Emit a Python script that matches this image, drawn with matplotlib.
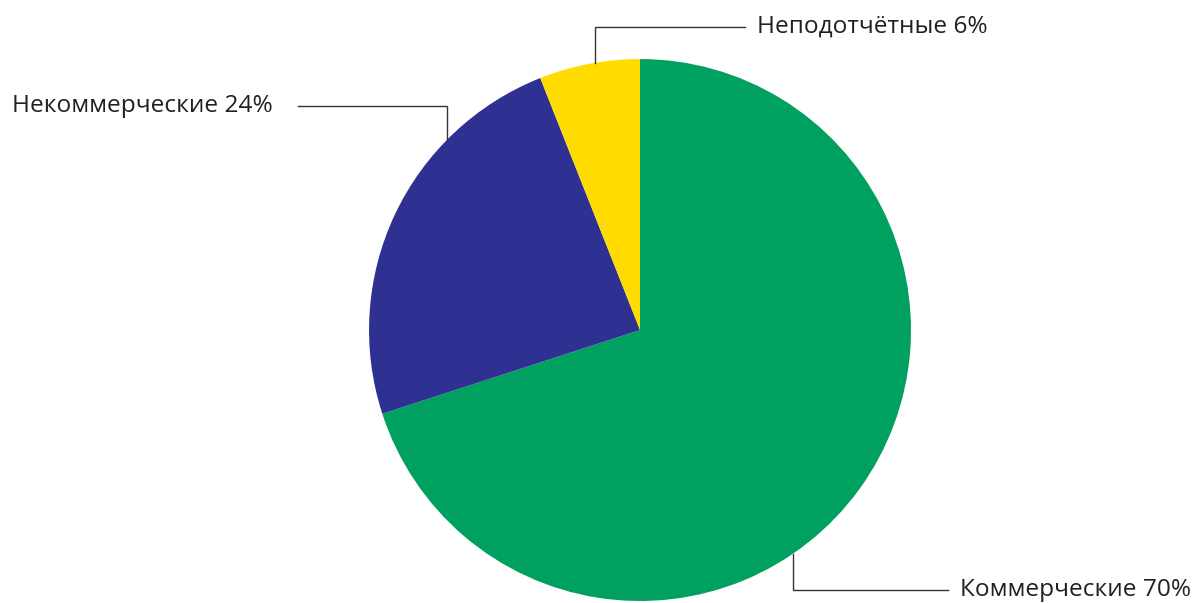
import matplotlib.pyplot as plt
import numpy as np

labels = ['Коммерческие', 'Некоммерческие', 'Неподотчётные']
shares = [70, 24, 6]
colors = ['#00a160', '#2e3192', '#ffdb00']

# leader layout in units of pie radius: (x of vertical stub, elbow y, x of line end, text x, align)
leaders = [
    (0.565, -0.959, 1.137, 1.181, 'left'),
    (-0.712, 0.827, -1.262, -1.354, 'right'),
    (-0.166, 1.118, 0.388, 0.432, 'left'),
]

plt.rcParams['font.family'] = ['Open Sans', 'DejaVu Sans']

fig = plt.figure(figsize=(12, 6.03), dpi=100)
ax = fig.add_axes([0.3075, 0.0033, 0.4517, 0.8988])
ax.pie(shares, colors=colors, startangle=90, counterclock=False, radius=1,
       wedgeprops=dict(linewidth=0))
ax.set_xlim(-1, 1)
ax.set_ylim(-1, 1)
ax.set_aspect('equal')
ax.axis('off')

for lab, val, (lx, ey, ex, tx, ha) in zip(labels, shares, leaders):
    edge_y = np.sign(ey) * np.sqrt(1 - lx ** 2)
    ax.plot([lx, lx, ex], [edge_y, ey, ey], color='#333333', lw=1.0,
            clip_on=False, solid_joinstyle='miter')
    ax.text(tx, ey, f'{lab} {val}%', ha=ha, va='center', fontsize=17.6,
            color='#231f20', clip_on=False)

fig.savefig('out.png', dpi=100)
